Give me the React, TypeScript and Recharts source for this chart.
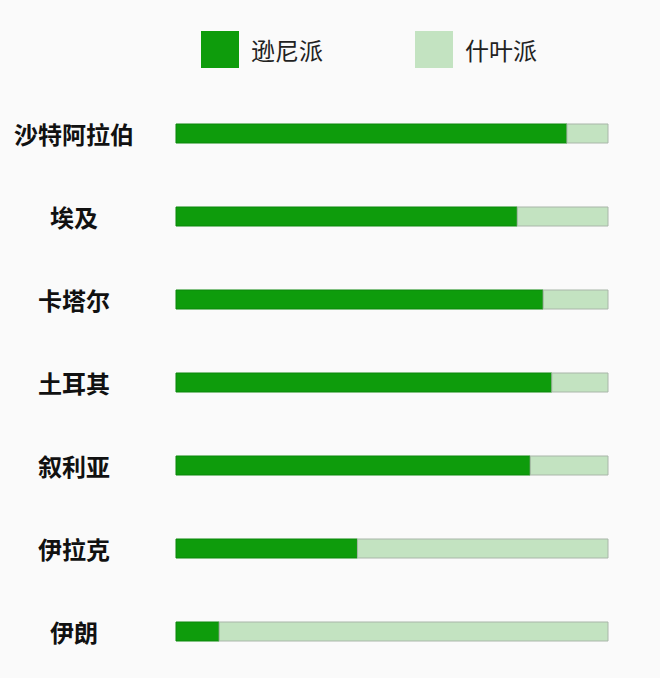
import React from 'react';
import { BarChart, Bar, XAxis, YAxis } from 'recharts';

const countries = ['沙特阿拉伯', '埃及', '卡塔尔', '土耳其', '叙利亚', '伊拉克', '伊朗'];
const sunni = [90.5, 79, 85, 87, 82, 42, 10];
const shia = [9.5, 21, 15, 13, 18, 58, 90];

const SERIES = [
  { key: 'sunni', name: '逊尼派', color: '#0e9c0c', stroke: '#0a870a' },
  { key: 'shia', name: '什叶派', color: '#c3e3c1', stroke: '#a9b6a9' },
];

const data = countries.map((name, i) => ({ name, sunni: sunni[i], shia: shia[i] }));

const FONT = '"Noto Sans CJK SC", "Noto Sans", sans-serif';

const CountryTick = ({ y, payload }: any) => (
  <text
    x={74}
    y={y}
    textAnchor="middle"
    dominantBaseline="central"
    fontSize={24}
    fontWeight={700}
    fontFamily={FONT}
    fill="#111"
  >
    {payload.value}
  </text>
);

const LegendBox = () => (
  <div style={{ position: 'absolute', top: 31, left: 0, width: 660, height: 38, fontFamily: FONT }}>
    {SERIES.map((s, i) => (
      <div
        key={s.key}
        style={{ position: 'absolute', left: i === 0 ? 201 : 415, top: 0, display: 'flex', alignItems: 'center' }}
      >
        <div style={{ width: 38, height: 37, background: s.color }} />
        <span style={{ marginLeft: 12, fontSize: 24, color: '#222', lineHeight: '37px' }}>{s.name}</span>
      </div>
    ))}
  </div>
);

export default function App() {
  return (
    <div style={{ position: 'absolute', top: 0, left: 0, width: 660, height: 678, background: '#fafafa' }}>
      <LegendBox />
      <BarChart
        width={660}
        height={678}
        data={data}
        layout="vertical"
        margin={{ top: 92, right: 52, bottom: 5, left: 0 }}
      >
        <XAxis type="number" domain={[0, 100]} hide />
        <YAxis
          type="category"
          dataKey="name"
          width={176}
          axisLine={false}
          tickLine={false}
          tick={<CountryTick />}
          interval={0}
        />
        {SERIES.map((s) => (
          <Bar
            key={s.key}
            dataKey={s.key}
            name={s.name}
            stackId="a"
            fill={s.color}
            stroke={s.stroke}
            strokeWidth={1}
            barSize={19}
            isAnimationActive={false}
          />
        ))}
      </BarChart>
    </div>
  );
}
